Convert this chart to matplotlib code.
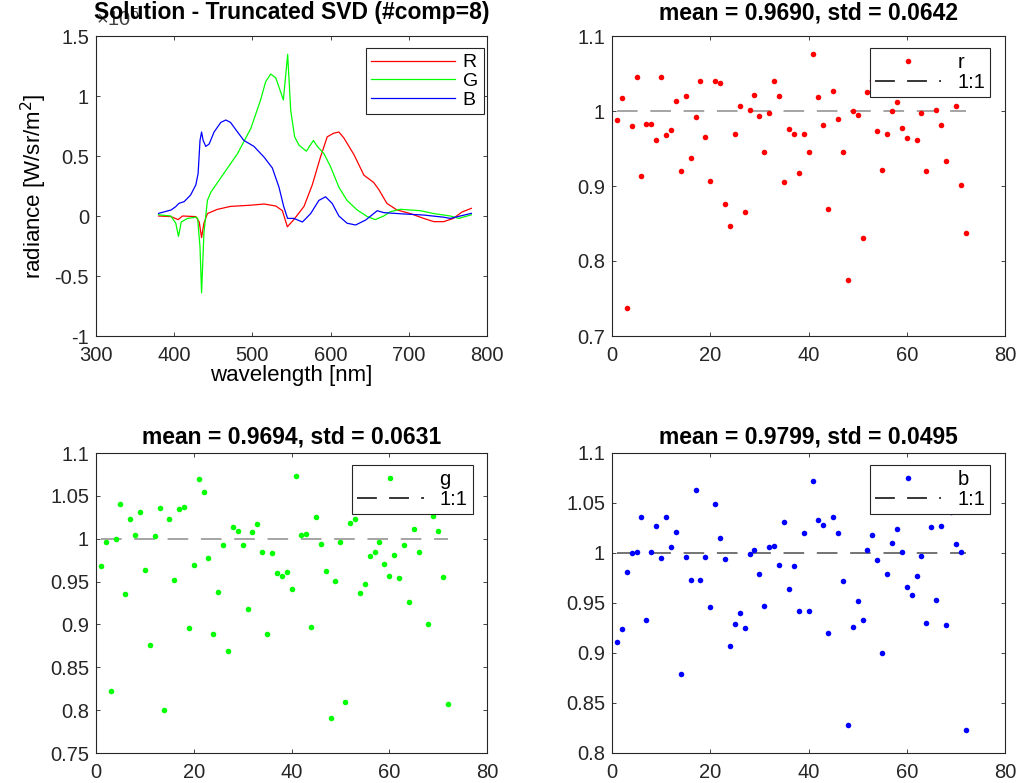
import numpy as np
import matplotlib
matplotlib.use("Agg")
import matplotlib.pyplot as plt
from matplotlib.lines import Line2D

plt.rcParams['font.family'] = ['Liberation Sans', 'DejaVu Sans']
plt.rcParams['axes.unicode_minus'] = False
plt.rcParams['font.size'] = 14.5

# reconstructed radiance spectra, in units of 1e5 W/sr/m^2
wl_R = [380, 396, 405, 410.6, 427.7, 432, 435, 438, 442.5, 455, 472, 498, 515, 530, 538.3,
        544.7, 553, 566, 576.6, 587, 595.7, 604, 610.6, 617, 630, 642.6, 655, 661.7, 672,
        685, 702, 719, 732, 744.7, 757, 768, 780]
rad_R = [0.0, -0.005, -0.03, 0.0, -0.005, -0.05, -0.18, -0.06, 0.02, 0.055, 0.08, 0.09, 0.10,
         0.083, 0.045, -0.09, -0.03, 0.08, 0.26, 0.49, 0.66, 0.69, 0.70, 0.65, 0.51, 0.34,
         0.28, 0.22, 0.105, 0.05, 0.02, -0.02, -0.047, -0.047, -0.02, 0.033, 0.064]

wl_G = [380, 395.7, 402, 405.5, 409, 417, 427.7, 430, 433, 435, 437, 438, 442.5, 447, 464, 481,
        498, 510.6, 517, 523.4, 530, 539.6, 545.1, 549, 554, 559.6, 569, 578, 583, 591.5, 600,
        610.6, 621, 634, 647, 657, 668, 676.6, 689, 715, 732, 753, 764, 780]
rad_G = [0.01, 0.0, -0.06, -0.17, -0.05, -0.02, -0.01, -0.02, -0.26, -0.64, -0.31, -0.14, 0.13,
         0.2, 0.36, 0.52, 0.73, 0.97, 1.12, 1.183, 1.15, 0.967, 1.347, 0.88, 0.66, 0.59, 0.54,
         0.63, 0.58, 0.52, 0.41, 0.24, 0.13, 0.05, -0.005, -0.03, 0.0, 0.036, 0.056, 0.044,
         0.02, 0.0, -0.02, 0.01]

wl_B = [380, 396, 402, 406, 412.8, 421, 427.7, 430.6, 433, 435, 437, 440.4, 444.7, 451, 459.6,
        466, 472, 481, 489, 502, 515, 525.5, 534, 540, 545, 553, 564, 574.5, 585, 593.6, 602,
        610.6, 621, 632, 645, 659.6, 668, 693.6, 719, 744.7, 753, 780]
rad_B = [0.022, 0.05, 0.078, 0.105, 0.12, 0.175, 0.26, 0.355, 0.63, 0.70, 0.63, 0.58, 0.60, 0.70,
         0.78, 0.80, 0.78, 0.70, 0.63, 0.58, 0.49, 0.40, 0.24, 0.08, -0.02, -0.02, -0.05, 0.02,
         0.13, 0.16, 0.105, 0.0, -0.06, -0.075, -0.033, 0.044, 0.028, 0.017, 0.008, -0.01,
         -0.02, 0.022]

# per-sample ratios (estimate / reference), samples 1..72
ratio_r = [0.9876, 1.0178, 0.737, 0.980, 1.045, 0.914, 0.983, 0.983, 0.962, 1.045,
           0.968, 0.975, 1.013, 0.920, 1.020, 0.938, 0.992, 1.040, 0.965, 0.907,
           1.040, 1.038, 0.876, 0.847, 0.970, 1.007, 0.866, 1.001, 1.021, 0.993,
           0.945, 0.997, 1.040, 1.020, 0.906, 0.976, 0.969, 0.918, 0.969, 0.945,
           1.076, 1.019, 0.981, 0.870, 1.027, 0.990, 0.945, 0.775, 1.000, 0.995,
           0.831, 1.026, 1.042, 0.973, 0.921, 0.969, 1.000, 1.012, 0.978, 0.964,
           1.032, 0.961, 0.997, 0.920, 1.036, 1.002, 0.981, 0.933, 1.031, 1.007,
           0.901, 0.837]
ratio_g = [0.9676, 0.9957, 0.822, 0.9996, 1.0405, 0.936, 1.0226, 1.0043, 1.031, 0.964,
           0.876, 1.0035, 1.036, 0.800, 1.023, 0.952, 1.035, 1.037, 0.8955, 0.969,
           1.070, 1.054, 0.977, 0.889, 0.938, 0.993, 0.869, 1.014, 1.009, 0.993,
           0.9185, 1.0074, 1.017, 0.9844, 0.889, 0.9836, 0.960, 0.9563, 0.961, 0.941,
           1.073, 1.0039, 1.005, 0.8975, 1.025, 0.994, 0.9626, 0.791, 0.951, 0.9957,
           0.809, 1.0187, 1.0226, 0.937, 0.9466, 0.980, 0.985, 0.9957, 0.970, 0.9563,
           0.981, 0.954, 0.9926, 0.926, 1.0117, 0.984, 1.060, 0.900, 1.026, 1.009,
           0.9556, 0.807]
ratio_b = [0.911, 0.924, 0.9807, 1.0003, 1.0013, 1.0363, 0.933, 1.001, 1.0267, 0.995,
           1.0363, 1.0057, 1.0213, 0.8793, 0.9963, 0.9733, 1.0633, 0.9727, 0.9957, 0.9463,
           1.0493, 1.0147, 0.9937, 0.9067, 0.9287, 0.9403, 0.925, 0.9987, 1.0027, 0.9793,
           0.9473, 1.006, 1.0073, 0.9877, 1.0313, 0.9637, 0.9867, 0.9423, 1.0203, 0.9417,
           1.0723, 1.0333, 1.0277, 0.9203, 1.0363, 1.02, 0.9723, 0.828, 0.926, 0.9517,
           0.9333, 1.0033, 1.0183, 0.993, 0.8997, 0.979, 1.01, 1.0237, 1.0007, 0.966,
           0.9583, 0.9773, 0.9967, 0.9297, 1.0257, 0.953, 1.0267, 0.928, 1.0407, 1.009,
           1.0007, 0.8233]

titles = ['mean = 0.9690, std = 0.0642',
          'mean = 0.9694, std = 0.0631',
          'mean = 0.9799, std = 0.0495']

W, H = 1018, 783
fig = plt.figure(figsize=(W / 100, H / 100), dpi=100)

def px_axes(l, t, r, b):
    return fig.add_axes([l / W, 1 - b / H, (r - l) / W, (b - t) / H])

ax0 = px_axes(96, 36, 487, 336)
ax1 = px_axes(612, 36, 1005, 336)
ax2 = px_axes(96, 453, 487, 753)
ax3 = px_axes(612, 453, 1005, 753)

def matlab_style(ax):
    for s in ax.spines.values():
        s.set_color('0.15')
        s.set_linewidth(0.8)
    ax.tick_params(direction='in', length=3, width=0.6, colors='0.15',
                   top=True, right=True, labelsize=14.5, pad=5)
    ax.tick_params(axis='x', pad=7)
    ax.yaxis.set_major_formatter(plt.FormatStrFormatter('%g'))
    ax.xaxis.set_major_formatter(plt.FormatStrFormatter('%g'))

# spectra
ax0.plot(wl_R, rad_R, color='r', lw=0.9, label='R')
ax0.plot(wl_G, rad_G, color=(0, 1, 0), lw=0.9, label='G')
ax0.plot(wl_B, rad_B, color='b', lw=0.9, label='B')
ax0.set_xlim(300, 800)
ax0.set_ylim(-1, 1.5)
ax0.set_xticks(np.arange(300, 801, 100))
ax0.set_yticks(np.arange(-1, 1.51, 0.5))
matlab_style(ax0)
ax0.set_xlabel('wavelength [nm]', fontsize=16, labelpad=0)
ax0.set_ylabel('radiance [W/sr/m$^2$]', fontsize=16, labelpad=4)
ax0.text(0.0, 1.02, r'$\mathregular{\times10^5}$', transform=ax0.transAxes,
         fontsize=14.5, color='0.25', ha='left', va='bottom')
ax0.set_title('Solution - Truncated SVD (#comp=8)', fontsize=16.5, fontweight='bold', pad=12)
leg = ax0.legend(loc='upper right', bbox_to_anchor=(0.992, 0.96), borderaxespad=0,
                 fancybox=False, edgecolor='0.15', handlelength=4.3, handletextpad=0.4,
                 labelspacing=0.05, borderpad=0.3, fontsize=14, framealpha=1)
leg.get_frame().set_linewidth(0.8)

idx = np.arange(1, 73)
dash = (0, (13.5, 8.3))
panels = [(ax1, ratio_r, 'r', 'r', (0.7, 1.1), 0.1, '0.55', titles[0], 12),
          (ax2, ratio_g, (0, 1, 0), 'g', (0.75, 1.1), 0.05, '0.55', titles[1], 7),
          (ax3, ratio_b, 'b', 'b', (0.8, 1.1), 0.05, '0.3', titles[2], 7)]
for ax, vals, col, name, ylim, step, lcol, ttl, tpad in panels:
    ax.plot(idx, vals, ls='none', marker='o', ms=4, mec='none', mfc=col, zorder=3)
    ax.plot([1, 72], [1, 1], color=lcol, lw=1.1, ls=dash, zorder=2)
    ax.set_xlim(0, 80)
    ax.set_ylim(*ylim)
    ax.set_xticks(np.arange(0, 81, 20))
    ax.set_yticks(np.arange(ylim[0], ylim[1] + 1e-9, step))
    matlab_style(ax)
    ax.set_title(ttl, fontsize=16.5, fontweight='bold', pad=tpad)
    handles = [Line2D([], [], ls='none', marker='o', ms=4, mec='none', mfc=col),
               Line2D([], [], color='k', lw=1.1, ls=(0, (13, 8)))]
    lg = ax.legend(handles, [name, '1:1'], loc='upper right', bbox_to_anchor=(0.963, 0.96),
                   borderaxespad=0, fancybox=False, edgecolor='0.15', handlelength=3.3,
                   handletextpad=0.8, labelspacing=0.05, borderpad=0.25, fontsize=14.5,
                   framealpha=1)
    lg.get_frame().set_linewidth(0.8)
    lg.set_zorder(5)

fig.savefig('out.png', dpi=100)
